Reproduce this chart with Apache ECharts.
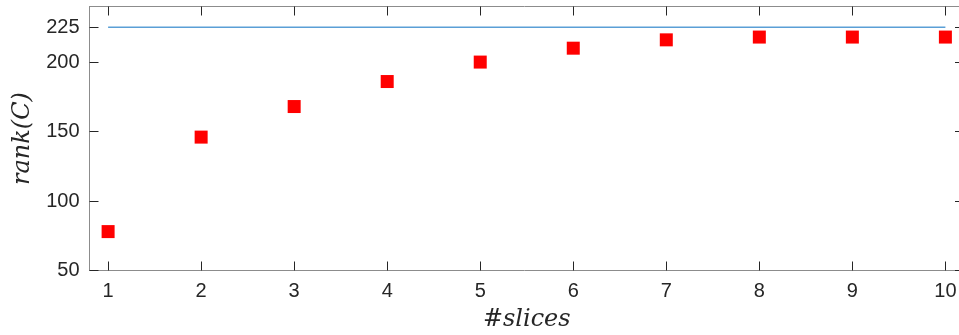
<!DOCTYPE html>
<html>
<head>
<meta charset="utf-8">
<script src="https://cdn.jsdelivr.net/npm/echarts@6/dist/echarts.min.js"></script>
<style>
  html, body { margin: 0; padding: 0; background: #fff; }
  #chart { width: 959px; height: 335px; }
</style>
</head>
<body>
<div id="chart"></div>
<script>
// values
const slices = [1, 2, 3, 4, 5, 6, 7, 8, 9, 10];
const rankC = [78, 146, 168, 186, 200, 210, 216, 218, 218, 218];
const fullRank = 225;
const xTicks = [1, 2, 3, 4, 5, 6, 7, 8, 9, 10];
const yTicks = [50, 100, 150, 200, 225];

document.addEventListener('DOMContentLoaded', () => {
  const container = document.getElementById('chart');
  const myChart = echarts.init(container, null, { renderer: 'canvas' });

  const txt = '#262626';
  const box = '#8c8c8c';
  const tickStyle = { show: true, inside: true, length: 9, lineStyle: { color: txt, width: 1 } };

  const points = slices.map((s, i) => [s, rankC[i]]);
  const boundLine = [[slices[0], fullRank], [slices[slices.length - 1], fullRank]];

  const option = {
    animation: false,
    backgroundColor: '#fff',
    grid: { left: 89.5, top: 6.5, right: -5, bottom: 64.5, containLabel: false, outerBoundsMode: 'none' },
    xAxis: [{
      type: 'value',
      min: 0.8,
      max: 10.2,
      name: '#slices',
      nameLocation: 'middle',
      nameGap: 37,
      nameTextStyle: { fontFamily: 'DejaVu Serif', fontStyle: 'italic', fontSize: 24, color: txt },
      axisLine: { show: true, onZero: false, lineStyle: { color: box, width: 1 } },
      axisTick: Object.assign({ customValues: xTicks }, tickStyle),
      axisLabel: { customValues: xTicks, fontFamily: 'Liberation Sans', fontSize: 20, color: txt, margin: 11 },
      splitLine: { show: false }
    }, {
      type: 'value',
      position: 'top',
      min: 0.8,
      max: 10.2,
      axisLine: { show: true, onZero: false, lineStyle: { color: box, width: 1 } },
      axisTick: Object.assign({ customValues: xTicks }, tickStyle),
      axisLabel: { show: false },
      splitLine: { show: false }
    }],
    yAxis: [{
      type: 'value',
      min: 50,
      max: 240,
      name: 'rank(C)',
      nameLocation: 'middle',
      nameGap: 55,
      nameRotate: 90,
      nameTextStyle: { fontFamily: 'DejaVu Serif', fontStyle: 'italic', fontSize: 24, color: txt },
      axisLine: { show: true, onZero: false, lineStyle: { color: box, width: 1 } },
      axisTick: Object.assign({ customValues: yTicks }, tickStyle),
      axisLabel: { customValues: yTicks, fontFamily: 'Liberation Sans', fontSize: 20, color: txt, margin: 10 },
      splitLine: { show: false }
    }, {
      type: 'value',
      position: 'right',
      min: 50,
      max: 240,
      axisLine: { show: true, onZero: false, lineStyle: { color: box, width: 1 } },
      axisTick: Object.assign({ customValues: yTicks }, tickStyle),
      axisLabel: { show: false },
      splitLine: { show: false }
    }],
    series: [{
      type: 'line',
      data: boundLine,
      symbol: 'none',
      lineStyle: { color: '#5a9fd6', width: 1.5 },
      silent: true
    }, {
      type: 'scatter',
      data: points,
      symbol: 'rect',
      symbolSize: 13,
      itemStyle: { color: '#ff0000', opacity: 1 }
    }]
  };

  myChart.setOption(option);
});
</script>
</body>
</html>
